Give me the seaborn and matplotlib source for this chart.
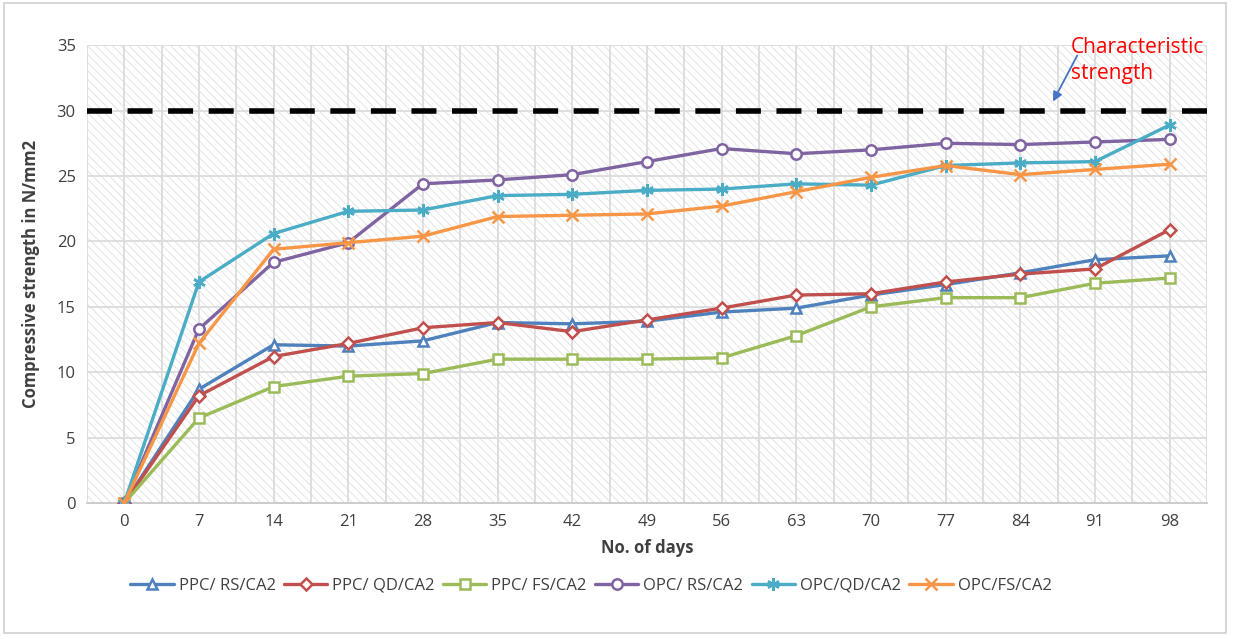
import numpy as np
import pandas as pd
import matplotlib
matplotlib.use("Agg")
import matplotlib.pyplot as plt
from matplotlib.patches import Rectangle
import seaborn as sns

sns.set_style("white")
plt.rcParams['font.family'] = ['Open Sans', 'DejaVu Sans']
plt.rcParams['hatch.linewidth'] = 0.6

# data
days = [0, 7, 14, 21, 28, 35, 42, 49, 56, 63, 70, 77, 84, 91, 98]
ppc_rs = [0, 8.7, 12.1, 12.0, 12.4, 13.8, 13.7, 13.9, 14.6, 14.9, 15.9, 16.7, 17.6, 18.6, 18.9]
ppc_qd = [0, 8.2, 11.2, 12.2, 13.4, 13.8, 13.1, 14.0, 14.9, 15.9, 16.0, 16.9, 17.5, 17.9, 20.9]
ppc_fs = [0, 6.5, 8.9, 9.7, 9.9, 11.0, 11.0, 11.0, 11.1, 12.8, 15.0, 15.7, 15.7, 16.8, 17.2]
opc_rs = [0, 13.3, 18.4, 19.9, 24.4, 24.7, 25.1, 26.1, 27.1, 26.7, 27.0, 27.5, 27.4, 27.6, 27.8]
opc_qd = [0, 16.9, 20.6, 22.3, 22.4, 23.5, 23.6, 23.9, 24.0, 24.4, 24.3, 25.8, 26.0, 26.1, 28.9]
opc_fs = [0, 12.2, 19.4, 19.9, 20.4, 21.9, 22.0, 22.1, 22.7, 23.8, 24.9, 25.8, 25.1, 25.5, 25.9]
char_strength = 30

series = [
    ("PPC/ RS/CA2", ppc_rs, "#4F81BD", "^"),
    ("PPC/ QD/CA2", ppc_qd, "#C0504D", "D"),
    ("PPC/ FS/CA2", ppc_fs, "#9BBB59", "s"),
    ("OPC/ RS/CA2", opc_rs, "#8064A2", "o"),
    ("OPC/QD/CA2", opc_qd, "#4BACC6", (6, 2, 0)),
    ("OPC/FS/CA2", opc_fs, "#F79646", "x"),
]

fig = plt.figure(figsize=(12.41, 6.36), dpi=100)
ax = fig.add_axes([0.070, 0.209, 0.9026, 0.720])

pos = np.arange(len(days))

# hatched background like the excel plot area
ax.add_patch(Rectangle((0, 0), 1, 1, transform=ax.transAxes, facecolor='white',
                       edgecolor='#e0e0e0', hatch='\\\\\\\\', linewidth=0, zorder=0))

# grid
for g in np.arange(-0.5, 15, 0.5):
    ax.axvline(g, color='#dcdcdc', linewidth=1.3, zorder=1)
for g in range(5, 36, 5):
    ax.axhline(g, color='#dcdcdc', linewidth=1.3, zorder=1)

ax.plot([-0.5, 14.5], [char_strength, char_strength], color='black', linewidth=4,
        dashes=(4.5, 2.8), zorder=2)

for name, vals, col, mk in series:
    mfc = col if mk in ("x", (6, 2, 0)) else 'white'
    ms = 9 if mk in ("x", (6, 2, 0)) else 7.5
    if mk == "D":
        ms = 6.5
    sns.lineplot(x=pos, y=vals, ax=ax, color=col, linewidth=2.4, marker=mk,
                 markersize=ms, markerfacecolor=mfc, markeredgecolor=col,
                 markeredgewidth=1.8, label=name, zorder=3)

ax.set_xlim(-0.5, 14.5)
ax.set_ylim(0, 35)
ax.set_xticks(pos)
ax.set_xticklabels([str(d) for d in days])
ax.set_yticks(range(0, 36, 5))
ax.tick_params(axis='both', length=0, labelsize=12, colors='#404040', pad=8)
for s in ['top', 'right', 'left']:
    ax.spines[s].set_visible(False)
ax.spines['bottom'].set_color('#c8c8c8')
ax.spines['bottom'].set_linewidth(1.3)

ax.set_xlabel('No. of days', fontsize=12, fontweight='bold', color='#404040', labelpad=6)
ax.set_ylabel('Compressive strength in N/mm2', fontsize=12, fontweight='bold',
              color='#404040', labelpad=12)

ax.annotate('', xy=(12.42, 30.5), xytext=(12.78, 34.4),
            arrowprops=dict(arrowstyle='-|>', color='#4472C4', lw=1.3, mutation_scale=14),
            annotation_clip=False, zorder=5)
ax.text(12.68, 33.8, 'Characteristic\nstrength', color='red', fontsize=15,
        ha='left', va='center', linespacing=1.3, zorder=5)

leg = ax.legend(loc='upper center', bbox_to_anchor=(0.45, -0.13), ncol=6, frameon=False,
                fontsize=12, handlelength=2.6, columnspacing=0.5, handletextpad=0.3)
for t in leg.get_texts():
    t.set_color('#404040')

fig.patches.append(Rectangle((0.003, 0.005), 0.985, 0.99, transform=fig.transFigure,
                             fill=False, edgecolor='#d0d0d0', linewidth=1.2))

fig.savefig('out.png', dpi=100)
